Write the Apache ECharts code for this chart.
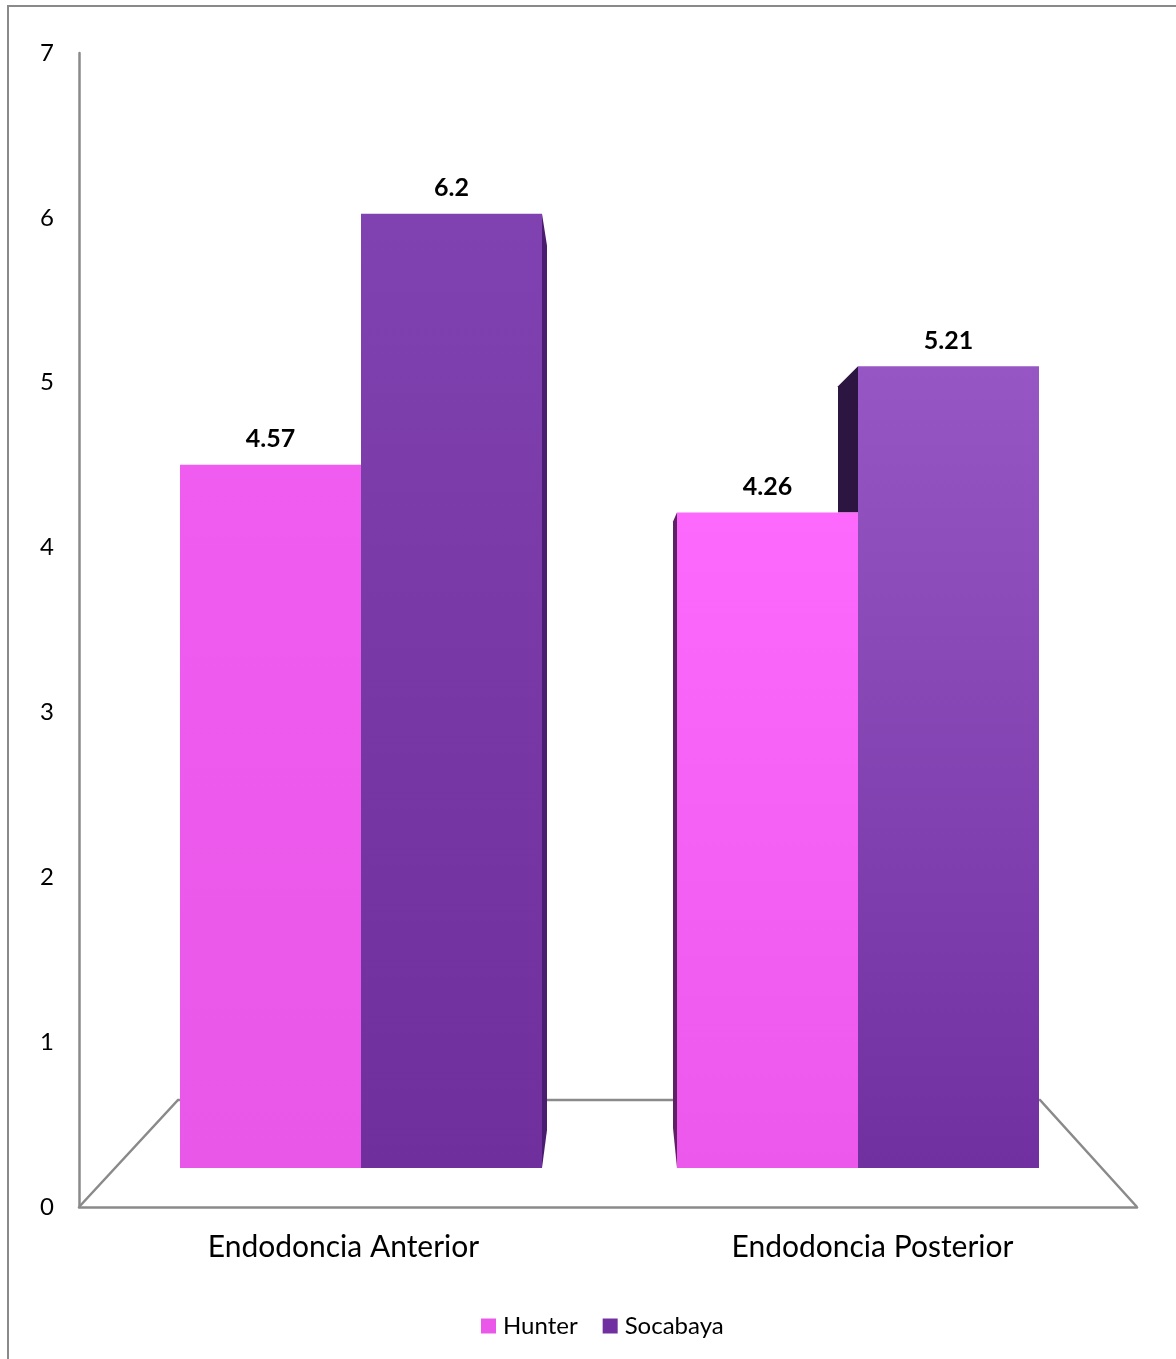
<!DOCTYPE html>
<html>
<head>
<meta charset="utf-8">
<script src="https://cdn.jsdelivr.net/npm/echarts@6/dist/echarts.min.js"></script>
<style>
html,body{margin:0;padding:0;background:#fff;}
#chart{width:1176px;height:1359px;}
</style>
</head>
<body>
<div id="chart"></div>
<script>
const categories = ['Endodoncia Anterior', 'Endodoncia Posterior'];
const hunter = [4.57, 4.26];
const socabaya = [6.2, 5.21];
const yTicks = [0, 1, 2, 3, 4, 5, 6, 7];

const FONT = 'Lato';
const BAR_W = 181;

const chart = echarts.init(document.getElementById('chart'));

// side faces: [category, value, kind, neighbourValue]
const sideData = [
  [0, socabaya[0], 0, hunter[0]],
  [1, hunter[1], 1, 0],
  [1, socabaya[1], 2, hunter[1]]
];

function renderSides(params, api) {
  const cat = api.value(0), val = api.value(1), kind = api.value(2), nb = api.value(3);
  const c = api.coord([cat, 0]);
  const t = api.coord([cat, val]);
  const cx = c[0], base = c[1], top = t[1];
  if (kind === 0) {
    const x = cx + BAR_W;
    return {type: 'polygon', shape: {points: [[x, top], [x + 5, top + 32], [x + 5, base - 38], [x, base]]},
      style: {fill: '#4b1d70'}};
  }
  if (kind === 1) {
    const x = cx - BAR_W;
    return {type: 'polygon', shape: {points: [[x, top], [x - 4, top + 9], [x - 4, base - 40], [x, base]]},
      style: {fill: '#5e2163'}};
  }
  const nTop = api.coord([cat, nb])[1];
  return {type: 'polygon', shape: {points: [[cx - 20, top + 20], [cx, top], [cx, nTop], [cx - 20, nTop]]},
    style: {fill: '#2c1540'}};
}

const option = {
  animation: false,
  backgroundColor: '#fff',
  textStyle: {fontFamily: FONT},
  legend: {
    data: ['Hunter', 'Socabaya'],
    bottom: 16,
    left: 476,
    itemWidth: 15, itemHeight: 15, itemGap: 25,
    icon: 'rect',
    textStyle: {fontFamily: FONT, fontSize: 24, color: '#000', padding: [0, 0, 0, 2]}
  },
  graphic: [
    {type: 'rect', z: -10, shape: {x: 8, y: 6, width: 1200, height: 1400},
      style: {fill: 'none', stroke: '#8a8a8a', lineWidth: 2}},
    {type: 'polyline', z: -5, shape: {points: [[79, 1207], [178, 1100], [1040, 1100], [1137, 1207]]},
      style: {fill: 'none', stroke: '#8a8a8a', lineWidth: 2.5}}
  ],
  grid: [
    {left: 79, right: 39, top: 53, bottom: 152},
    {left: 112.5, width: 994, top: 90.7, bottom: 191}
  ],
  xAxis: [
    {type: 'category', gridIndex: 0, data: categories,
      axisLine: {lineStyle: {color: '#8a8a8a', width: 2.5}},
      axisTick: {show: false},
      axisLabel: {fontFamily: FONT, fontSize: 30, color: '#000', margin: 25}},
    {type: 'category', gridIndex: 1, data: categories, show: false}
  ],
  yAxis: [
    {type: 'value', gridIndex: 0, min: yTicks[0], max: yTicks[yTicks.length - 1], interval: 1,
      axisLine: {show: true, lineStyle: {color: '#8a8a8a', width: 2.5}},
      axisTick: {show: false},
      splitLine: {show: false},
      axisLabel: {fontFamily: FONT, fontSize: 24, color: '#000', margin: 25}},
    {type: 'value', gridIndex: 1, min: 0, max: 7, show: false, splitLine: {show: false}}
  ],
  series: [
    {name: 'Hunter', type: 'bar', xAxisIndex: 1, yAxisIndex: 1, barWidth: BAR_W, barGap: '0%',
      data: hunter.map((v, i) => ({
        value: v,
        itemStyle: {color: new echarts.graphic.LinearGradient(0, 0, 0, 1,
          i === 0 ? [{offset: 0, color: '#ef5cef'}, {offset: 1, color: '#e957e9'}]
                  : [{offset: 0, color: '#fd68fd'}, {offset: 1, color: '#ec58ec'}])}
      })),
      itemStyle: {color: '#e958e9'},
      label: {show: true, position: 'top', distance: 13, fontFamily: FONT, fontWeight: 'bold', fontSize: 25, color: '#000'}
    },
    {name: 'Socabaya', type: 'bar', xAxisIndex: 1, yAxisIndex: 1, barWidth: BAR_W, barGap: '0%',
      data: socabaya.map((v, i) => ({
        value: v,
        itemStyle: {color: new echarts.graphic.LinearGradient(0, 0, 0, 1,
          i === 0 ? [{offset: 0, color: '#8042b0'}, {offset: 1, color: '#6f2f9c'}]
                  : [{offset: 0, color: '#9657c4'}, {offset: 1, color: '#7130a0'}])}
      })),
      itemStyle: {color: '#7030a0'},
      label: {show: true, position: 'top', distance: 13, fontFamily: FONT, fontWeight: 'bold', fontSize: 25, color: '#000'}
    },
    {name: 'sides', type: 'custom', xAxisIndex: 1, yAxisIndex: 1, data: sideData,
      renderItem: renderSides, silent: true, z: 1}
  ]
};
chart.setOption(option);
</script>
</body>
</html>
